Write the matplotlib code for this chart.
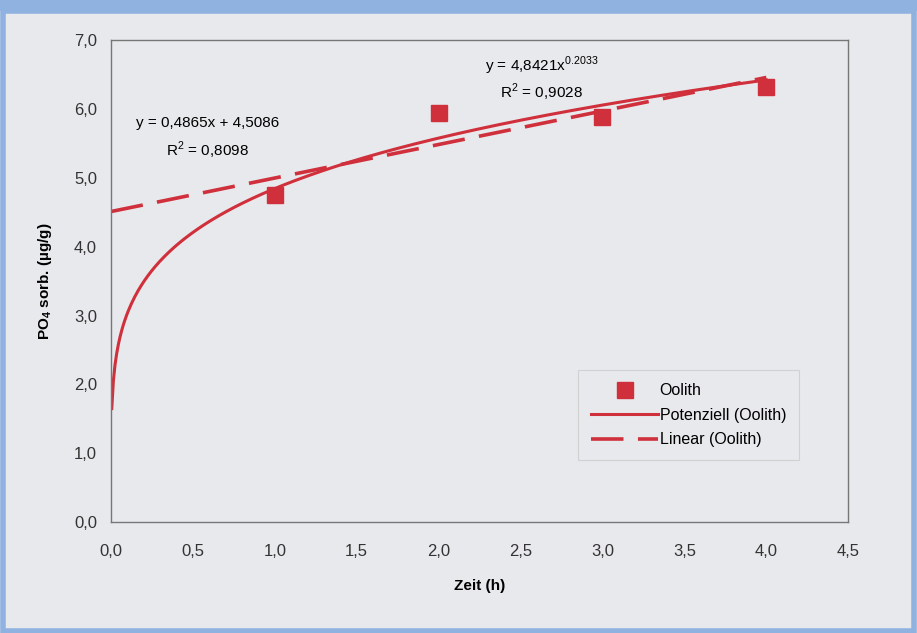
import numpy as np
import matplotlib.pyplot as plt
from matplotlib.patches import Rectangle
from matplotlib.ticker import FuncFormatter

plt.rcParams['font.family'] = ['Liberation Sans', 'DejaVu Sans']
plt.rcParams['mathtext.fontset'] = 'custom'
plt.rcParams['mathtext.rm'] = 'Liberation Sans'
plt.rcParams['mathtext.bf'] = 'Liberation Sans:bold'

zeit = [1, 2, 3, 4]
po4 = [4.75, 5.94, 5.88, 6.31]

# trendline coefficients as printed on the chart
lin_a, lin_b = 0.4865, 4.5086
pow_a, pow_b = 4.8421, 0.2033

red = '#d0303c'
bg = '#e8e9ec'

fig = plt.figure(figsize=(9.17, 6.33), dpi=100, facecolor=bg)
ax = fig.add_axes([0.121, 0.175, 0.804, 0.762])
ax.set_facecolor(bg)

x_lin = np.linspace(0, 4, 50)
x_pow = np.linspace(0.005, 4, 400)

ax.plot(zeit, po4, 's', color=red, markersize=11, label='Oolith', zorder=3)
ax.plot(x_pow, pow_a * x_pow ** pow_b, '-', color=red, lw=2.2,
        label='Potenziell (Oolith)')
ax.plot(x_lin, lin_a * x_lin + lin_b, '--', color=red, lw=2.6,
        dashes=(9, 4), label='Linear (Oolith)')

ax.set_xlim(0, 4.5)
ax.set_ylim(0, 7)
ax.set_xticks(np.arange(0, 4.51, 0.5))
ax.set_yticks(np.arange(0, 7.01, 1))
fmt = FuncFormatter(lambda v, p: f'{v:.1f}'.replace('.', ','))
ax.xaxis.set_major_formatter(fmt)
ax.yaxis.set_major_formatter(fmt)
ax.tick_params(length=0, labelsize=12, colors='#333333', pad=10)
ax.tick_params(axis='x', pad=16)
for s in ax.spines.values():
    s.set_color('#777777')
    s.set_linewidth(1.0)

ax.set_xlabel('Zeit (h)', fontsize=11, fontweight='bold', labelpad=14)
ax.set_ylabel(r'PO$_\mathbf{4}$ sorb. (µg/g)', fontsize=11, fontweight='bold', labelpad=14)

ax.text(0.59, 5.79, 'y = 0,4865x + 4,5086', ha='center', va='center', fontsize=11)
ax.text(0.59, 5.40, 'R$^2$ = 0,8098', ha='center', va='center', fontsize=11)
ax.text(2.63, 6.63, 'y = 4,8421x$^{0.2033}$', ha='center', va='center', fontsize=11)
ax.text(2.63, 6.24, 'R$^2$ = 0,9028', ha='center', va='center', fontsize=11)

leg = ax.legend(loc='lower right', bbox_to_anchor=(0.944, 0.112), fontsize=11.5,
                frameon=True, fancybox=False, handlelength=4.2,
                handletextpad=0.1, borderpad=0.8, labelspacing=0.6)
leg.get_frame().set_edgecolor('#cccccc')
leg.get_frame().set_facecolor(bg)
leg.get_frame().set_linewidth(0.8)

# blue frame around the figure
fig.patches.append(Rectangle((0.003, 0.003), 0.994, 0.98, transform=fig.transFigure,
                             fill=False, edgecolor='#8fb2e0', lw=4))
fig.patches.append(Rectangle((0, 0.983), 1, 0.017, transform=fig.transFigure,
                             facecolor='#8fb2e0', edgecolor='none'))

fig.savefig('out.png', dpi=100, facecolor=bg)
